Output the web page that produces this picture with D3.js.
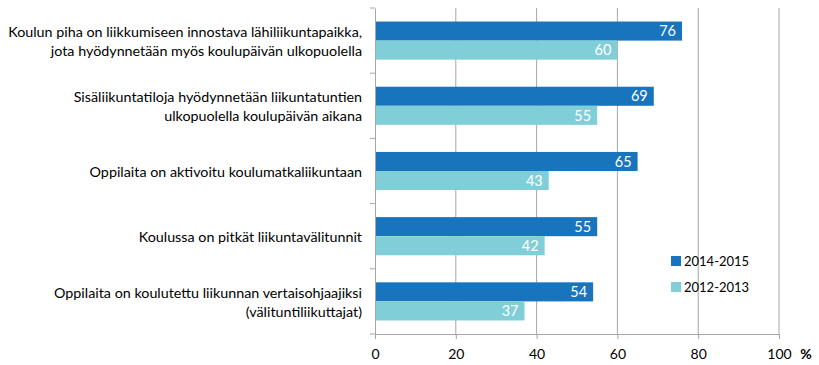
<!DOCTYPE html>
<html><head><meta charset="utf-8">
<script src="https://cdn.jsdelivr.net/npm/d3@7"></script>
<style>body{margin:0;background:#fff}svg{display:block}text{font-family:Lato,"Open Sans",sans-serif}</style>
</head><body>
<svg id="c" width="819" height="365"></svg>
<script>
const categories = [
  ["Koulun piha on liikkumiseen innostava lähiliikuntapaikka,", "jota hyödynnetään myös koulupäivän ulkopuolella"],
  ["Sisäliikuntatiloja hyödynnetään liikuntatuntien", "ulkopuolella koulupäivän aikana"],
  ["Oppilaita on aktivoitu koulumatkaliikuntaan"],
  ["Koulussa on pitkät liikuntavälitunnit"],
  ["Oppilaita on koulutettu liikunnan vertaisohjaajiksi", "(välituntiliikuttajat)"]
];
const seriesNames = ["2014-2015", "2012-2013"];
const values2014 = [76, 69, 65, 55, 54];
const values2012 = [60, 55, 43, 42, 37];
const xTicks = [0, 20, 40, 60, 80, 100];
const colors = ["#1874bd", "#80cfd8"];

const svg = d3.select("#c");
const x = d3.scaleLinear().domain([0, 100]).range([375, 779]);
const y = d3.scaleBand().domain(d3.range(categories.length)).range([8, 334]);
const inner = d3.scaleBand().domain([0, 1]).range([0, y.bandwidth()]).paddingOuter(0.71).paddingInner(0);

// gridlines
svg.append("g").selectAll("line").data(xTicks.slice(1)).join("line")
  .attr("x1", d => x(d)).attr("x2", d => x(d)).attr("y1", 8).attr("y2", 334)
  .attr("stroke", "#a6a6a6").attr("stroke-width", 1);

// bars
const series = [values2014, values2012];
const g = svg.append("g");
series.forEach((vals, si) => {
  g.selectAll(".b" + si).data(vals).join("rect")
    .attr("x", x(0)).attr("y", (d, i) => y(i) + inner(si))
    .attr("width", d => x(d) - x(0)).attr("height", inner.bandwidth())
    .attr("fill", colors[si]);
  g.selectAll(".t" + si).data(vals).join("text")
    .attr("x", d => x(d) - 6).attr("y", (d, i) => y(i) + inner(si) + inner.bandwidth() / 2)
    .attr("dy", "0.36em").attr("text-anchor", "end").attr("fill", "#fff")
    .attr("font-size", 14.5).text(d => d);
});

// y axis
const ya = svg.append("g").attr("transform", `translate(${x(0)},0)`)
  .call(d3.axisLeft(y).tickValues([]).tickSizeOuter(0));
ya.select(".domain").attr("stroke", "#a6a6a6");
ya.selectAll(".yt").data(d3.range(categories.length + 1)).join("line")
  .attr("x1", -5).attr("x2", 0)
  .attr("y1", i => i < categories.length ? y(i) : 334).attr("y2", i => i < categories.length ? y(i) : 334)
  .attr("stroke", "#a6a6a6");

// category labels
const labelTexts = [];
categories.forEach((lines, i) => {
  const cy = y(i) + y.bandwidth() / 2 + 1;
  const t = svg.append("text").attr("text-anchor", "end").attr("font-size", 15).attr("fill", "#000");
  lines.forEach((l, k) => {
    t.append("tspan").attr("x", 362)
      .attr("y", cy + (k - (lines.length - 1) / 2) * 19).attr("dy", "0.36em").text(l);
  });
  labelTexts.push(t);
});
// fit font so the longest line spans the same width as in the reference (~354px)
const firstLine = labelTexts[0].select("tspan").node();
const w = firstLine.getComputedTextLength();
const fs = 15 * 354 / w;
labelTexts.forEach(t => t.attr("font-size", fs));

// x axis
const xa = svg.append("g").attr("transform", "translate(0,334)")
  .call(d3.axisBottom(x).tickValues(xTicks).tickSize(5).tickSizeOuter(0).tickPadding(10));
xa.select(".domain").attr("stroke", "#a6a6a6");
xa.selectAll(".tick line").attr("stroke", "#a6a6a6");
xa.selectAll(".tick text").attr("font-size", 14).attr("fill", "#000").attr("font-family", "Lato,sans-serif");
svg.append("text").attr("x", 806).attr("y", 359).attr("text-anchor", "middle")
  .attr("font-size", 14).attr("font-weight", "bold").text("%");

// legend
const lg = svg.append("g");
seriesNames.forEach((n, i) => {
  const ly = 261 + i * 26;
  lg.append("rect").attr("x", 671).attr("y", ly - 5).attr("width", 10).attr("height", 10).attr("fill", colors[i]);
  lg.append("text").attr("x", 684).attr("y", ly).attr("dy", "0.36em").attr("font-size", 13).text(n);
});
</script>
</body></html>
